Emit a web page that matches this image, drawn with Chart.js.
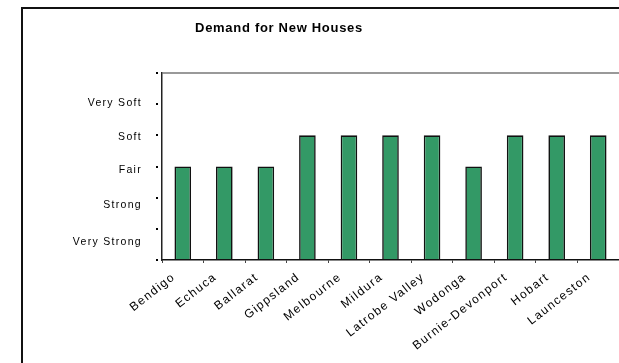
<!DOCTYPE html>
<html>
<head>
<meta charset="utf-8">
<script src="https://cdn.jsdelivr.net/npm/chart.js@4"></script>
<style>
html,body{margin:0;padding:0;background:#fff;}
#wrap{width:619px;height:363px;position:relative;}
</style>
</head>
<body>
<div id="wrap"><canvas id="c" width="619" height="363"></canvas></div>
<script>
const chartTitle = "Demand for New Houses";
const categories = ["Bendigo","Echuca","Ballarat","Gippsland","Melbourne","Mildura","Latrobe Valley","Wodonga","Burnie-Devonport","Hobart","Launceston"];
const demandValues = [3,3,3,4,4,4,4,3,4,4,4];
const yTickValues = [0,1,2,3,4,5,6];
const yLabelNames = ["Very Strong","Strong","Fair","Soft","Very Soft"];
const yLabelValues = [0.59,1.77,2.89,3.95,5.03];

const FONT = "'Liberation Sans', Arial, sans-serif";

function spaced(px){
  return function(scale){
    if (scale._spacedWrap) return;
    const orig = scale.drawLabels;
    scale.drawLabels = function(ca){
      const ctx = this.ctx;
      ctx.save();
      ctx.letterSpacing = px;
      orig.call(this, ca);
      ctx.restore();
    };
    scale._spacedWrap = true;
  };
}

const framePlugin = {
  id: 'frame',
  beforeDraw(chart){
    const ctx = chart.ctx;
    ctx.save();
    ctx.fillStyle = '#fff';
    ctx.fillRect(0,0,chart.width,chart.height);
    ctx.strokeStyle = '#111';
    ctx.lineWidth = 2;
    ctx.strokeRect(22, 8, 700, 400);
    ctx.restore();
  },
  afterDraw(chart){
    const ctx = chart.ctx;
    ctx.save();
    ctx.letterSpacing = '0.7px';
    ctx.font = "bold 13px " + FONT;
    ctx.fillStyle = '#000';
    ctx.textAlign = 'center';
    ctx.textBaseline = 'middle';
    ctx.fillText(chartTitle, 279, 28);
    ctx.restore();
  }
};

new Chart(document.getElementById('c'), {
  type: 'bar',
  data: {
    labels: categories,
    datasets: [{
      data: demandValues,
      backgroundColor: '#339966',
      borderColor: '#111',
      borderWidth: 1.6,
      borderSkipped: 'bottom',
      barPercentage: 0.4,
      categoryPercentage: 1.0
    }]
  },
  options: {
    responsive: false,
    animation: false,
    devicePixelRatio: 1,
    layout: { padding: { top: 73, right: -1, left: 0, bottom: 0 } },
    plugins: { legend: { display: false }, title: { display: false }, tooltip: { enabled: false } },
    scales: {
      x: {
        offset: true,
        grid: { offset: true, drawOnChartArea: false, tickLength: 3, tickColor: '#444', tickWidth: 1 },
        border: { color: '#111', width: 1.5 },
        ticks: {
          autoSkip: false, maxRotation: 38, minRotation: 38,
          font: { family: FONT, size: 12 }, color: '#000',
          padding: 7, labelOffset: -9
        },
        afterFit(scale){ scale.height = 103; },
        afterUpdate: spaced('1.4px')
      },
      y: {
        min: 0, max: 6,
        afterBuildTicks(scale){ scale.ticks = yTickValues.map(v => ({ value: v })); },
        grid: {
          drawOnChartArea: true,
          color: (c) => (c.tick && c.tick.value === 6) ? '#999' : 'rgba(0,0,0,0)',
          lineWidth: 2,
          tickLength: 6, tickColor: '#000', tickWidth: 2, tickBorderDash: [2, 10]
        },
        border: { color: '#222', width: 1.5 },
        ticks: { display: false },
        afterFit(scale){ scale.width = 5; }
      },
      yl: {
        position: 'left',
        min: 0, max: 6,
        afterBuildTicks(scale){ scale.ticks = yLabelValues.map(v => ({ value: v })); },
        grid: { display: false, drawTicks: false },
        border: { display: false },
        ticks: {
          font: { family: FONT, size: 10.5 }, color: '#000', padding: 15,
          callback: (v, i) => yLabelNames[i]
        },
        afterFit(scale){ scale.width = 157; },
        afterUpdate: spaced('1.3px')
      }
    }
  },
  plugins: [framePlugin]
});
</script>
</body>
</html>
